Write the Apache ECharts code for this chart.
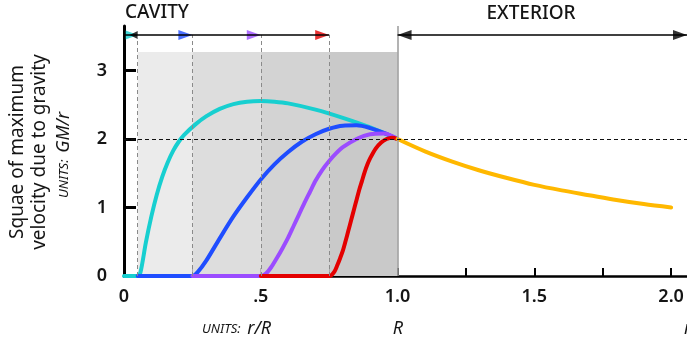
<!DOCTYPE html>
<html>
<head>
<meta charset="utf-8">
<script src="https://cdn.jsdelivr.net/npm/echarts@6/dist/echarts.min.js"></script>
<style>
  html, body { margin: 0; padding: 0; background: #fff; }
  #chart { width: 687px; height: 344px; }
</style>
</head>
<body>
<div id="chart"></div>
<script>
// r in units of R, v^2 in units of GM/r
const cyanCurve = [[0,0],[0.05,0],[0.06,0.05],[0.08,0.49],[0.10,0.87],[0.12,1.19],[0.14,1.45],[0.16,1.66],[0.18,1.83],[0.20,1.96],[0.22,2.06],[0.26,2.21],[0.30,2.33],[0.35,2.44],[0.40,2.51],[0.45,2.545],[0.50,2.555],[0.55,2.545],[0.60,2.52],[0.70,2.43],[0.80,2.31],[0.90,2.17],[1.0,2.0]];
const blueCurve = [[0.05,0],[0.25,0],[0.27,0.06],[0.30,0.22],[0.35,0.55],[0.40,0.87],[0.45,1.15],[0.50,1.41],[0.55,1.63],[0.60,1.81],[0.65,1.96],[0.70,2.07],[0.75,2.15],[0.80,2.195],[0.85,2.2],[0.90,2.16],[0.95,2.09],[1.0,2.0]];
const purpleCurve = [[0.25,0],[0.5,0],[0.52,0.04],[0.54,0.14],[0.56,0.27],[0.58,0.41],[0.60,0.56],[0.62,0.73],[0.64,0.90],[0.66,1.07],[0.68,1.23],[0.70,1.39],[0.725,1.55],[0.75,1.68],[0.775,1.79],[0.80,1.88],[0.85,2.0],[0.90,2.07],[0.95,2.08],[1.0,2.0]];
const redCurve = [[0.5,0],[0.75,0],[0.76,0.02],[0.77,0.07],[0.78,0.16],[0.79,0.26],[0.80,0.37],[0.81,0.51],[0.82,0.66],[0.83,0.81],[0.84,0.96],[0.85,1.11],[0.86,1.26],[0.87,1.39],[0.88,1.52],[0.89,1.63],[0.90,1.72],[0.92,1.86],[0.94,1.95],[0.96,2.0],[0.98,2.02],[1.0,2.0]];
const exteriorCurve = [[1.0,2.0],[1.1,1.82],[1.2,1.67],[1.3,1.54],[1.4,1.43],[1.5,1.33],[1.6,1.25],[1.7,1.18],[1.8,1.11],[1.9,1.05],[2.0,1.0]];

// cavity radii of the four shells and the outer radius
const cavityRadii = [0.05, 0.25, 0.5, 0.75];
const outerRadius = 1.0;

// axis ticks and labels
const xTickValues = [0.25, 0.5, 0.75, 1.0, 1.25, 1.5, 1.75, 2.0];
const xLabelValues = [0, 0.5, 1.0, 1.5, 2.0];
const xLabelTexts = ['0', '.5', '1.0', '1.5', '2.0'];
const yTickValues = [1, 2, 3];
const yLabelValues = [0, 1, 2, 3];
const yLabelTexts = ['0', '1', '2', '3'];

// layout constants
const X_MAX = 2.058;
const Y_MAX = 3.65;
const SHELL_TOP = 3.27;
const ARROW_Y = 3.52;
const REF_LEVEL = 2;

const curveColors = ['#17cfd0', '#1f4dff', '#9b4cff', '#e40000'];
const exteriorColor = '#ffb800';
const bandColors = ['#ebebeb', '#dddddd', '#d3d3d3', '#c9c9c9'];
const FONT = '"Noto Sans", sans-serif';

const chart = echarts.init(document.getElementById('chart'), null, { renderer: 'canvas' });

// shaded shell bands between consecutive cavity radii and the outer radius
const bandEdges = cavityRadii.concat([outerRadius]);
const bands = cavityRadii.map((r, i) => [
  { coord: [r, 0], itemStyle: { color: bandColors[i] } },
  { coord: [bandEdges[i + 1], SHELL_TOP] }
]);

const dashedGray = { color: '#8a8a8a', type: [4, 3], width: 1 };
const refLines = [];
cavityRadii.forEach(r => {
  refLines.push([{ coord: [r, 0], lineStyle: dashedGray }, { coord: [r, ARROW_Y] }]);
});
refLines.push([{ coord: [outerRadius, 0], lineStyle: { color: '#9a9a9a', width: 1.5, type: 'solid' } }, { coord: [outerRadius, Y_MAX] }]);
refLines.push({ yAxis: REF_LEVEL, lineStyle: { color: '#111', type: [4, 3], width: 1 } });
refLines.push([{ coord: [0, ARROW_Y], lineStyle: { color: '#000', width: 1.5, type: 'solid' } }, { coord: [cavityRadii[cavityRadii.length - 1], ARROW_Y] }]);
refLines.push([{ coord: [outerRadius, ARROW_Y], lineStyle: { color: '#000', width: 1.5, type: 'solid' } }, { coord: [X_MAX, ARROW_Y] }]);

// arrow heads marking each cavity edge and the exterior span
const arrowHeads = cavityRadii.map((r, i) => ({
  value: [r, ARROW_Y],
  symbolRotate: -90,
  symbolSize: i === 0 ? [9, 12] : [10, 14],
  symbolOffset: i === 0 ? [-6, 0] : [-7, 0],
  itemStyle: { color: curveColors[i] }
}));
arrowHeads.push({ value: [cavityRadii[0], ARROW_Y], symbolRotate: 90, symbolSize: [8, 8], symbolOffset: [-4, 0], itemStyle: { color: '#000' } });
arrowHeads.push({ value: [outerRadius, ARROW_Y], symbolRotate: 90, symbolSize: [10, 14], symbolOffset: [7, 0], itemStyle: { color: '#000' } });
arrowHeads.push({ value: [X_MAX, ARROW_Y], symbolRotate: -90, symbolSize: [10, 14], symbolOffset: [-7, 0], itemStyle: { color: '#000' } });

function curveSeries(data, color, z) {
  return {
    type: 'line', data, z, smooth: 0.3,
    showSymbol: false, silent: true, clip: false,
    lineStyle: { color, width: 4, cap: 'round', join: 'round' }
  };
}

const textColor = '#151515';

chart.setOption({
  animation: false,
  grid: { left: 124, right: 0, top: 26, bottom: 68, containLabel: false },
  xAxis: {
    type: 'value', min: 0, max: X_MAX,
    axisLine: { lineStyle: { color: '#000', width: 2.5 } },
    axisTick: { inside: true, length: 8, customValues: xTickValues, lineStyle: { color: '#000', width: 2 } },
    axisLabel: {
      customValues: xLabelValues, margin: 12,
      formatter: v => xLabelTexts[xLabelValues.indexOf(v)] ?? '',
      color: textColor, fontSize: 18, fontWeight: 600, fontFamily: FONT
    },
    splitLine: { show: false }
  },
  yAxis: {
    type: 'value', min: 0, max: Y_MAX,
    axisLine: { show: true, lineStyle: { color: '#000', width: 3 } },
    axisTick: { show: true, inside: true, length: 12, customValues: yTickValues, lineStyle: { color: '#000', width: 3 } },
    axisLabel: {
      customValues: yLabelValues, margin: 17,
      formatter: v => yLabelTexts[yLabelValues.indexOf(v)] ?? '',
      color: textColor, fontSize: 18, fontWeight: 600, fontFamily: FONT
    },
    splitLine: { show: false }
  },
  series: [
    {
      type: 'line', data: [], z: 1, silent: true,
      markArea: { silent: true, data: bands }
    },
    {
      type: 'line', data: [], z: 2, silent: true,
      markLine: { silent: true, symbol: ['none', 'none'], label: { show: false }, data: refLines }
    },
    curveSeries(cyanCurve, curveColors[0], 3),
    curveSeries(blueCurve, curveColors[1], 3),
    curveSeries(purpleCurve, curveColors[2], 3),
    curveSeries(redCurve, curveColors[3], 3),
    curveSeries(exteriorCurve, exteriorColor, 3),
    {
      type: 'scatter', data: arrowHeads, z: 4, symbol: 'triangle', silent: true, clip: false
    }
  ],
  graphic: [
    { type: 'text', left: 125, top: 3, style: { text: 'CAVITY', fill: textColor, font: '500 19px ' + FONT } },
    { type: 'text', x: 531, y: 14, style: { text: 'EXTERIOR', fill: textColor, font: '500 19px ' + FONT, align: 'center', verticalAlign: 'middle' } },
    { type: 'text', x: 18, y: 152, rotation: Math.PI / 2, style: { text: 'Squae of maximum', fill: textColor, font: '19px ' + FONT, align: 'center', verticalAlign: 'middle' } },
    { type: 'text', x: 40, y: 152, rotation: Math.PI / 2, style: { text: 'velocity due to gravity', fill: textColor, font: '19px ' + FONT, align: 'center', verticalAlign: 'middle' } },
    { type: 'text', x: 64, y: 155, rotation: Math.PI / 2, style: {
        text: '{u|UNITS:}  {g|GM/r}', align: 'center', verticalAlign: 'middle',
        rich: {
          u: { fill: textColor, font: 'italic 13px ' + FONT },
          g: { fill: textColor, font: 'italic 18px ' + FONT }
        }
      } },
    { type: 'text', x: 202, y: 329, style: {
        text: '{u|UNITS:}  {g|r/R}', align: 'left', verticalAlign: 'middle',
        rich: {
          u: { fill: textColor, font: 'italic 13px ' + FONT },
          g: { fill: textColor, font: 'italic 18px ' + FONT }
        }
      } },
    { type: 'text', x: 398, y: 329, style: { text: 'R', fill: textColor, font: 'italic 18px ' + FONT, align: 'center', verticalAlign: 'middle' } },
    { type: 'text', x: 684, y: 329, style: { text: 'r', fill: textColor, font: 'italic 18px ' + FONT, align: 'left', verticalAlign: 'middle' } }
  ]
});
</script>
</body>
</html>
